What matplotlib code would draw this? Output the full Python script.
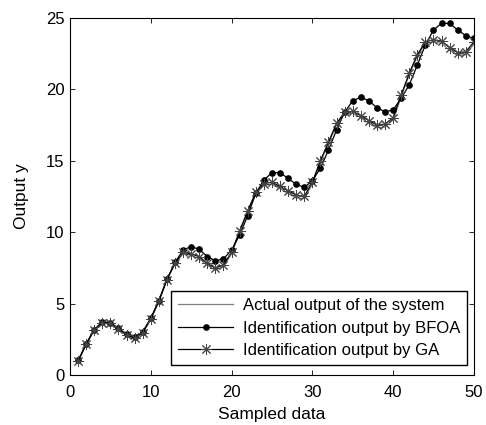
import numpy as np
import matplotlib
matplotlib.use("Agg")
import matplotlib.pyplot as plt

plt.rcParams.update({
    "font.family": ["Liberation Sans", "DejaVu Sans"],
    "font.size": 12,
})

# sample index
samples = np.arange(1, 51)

actual = [0.95, 2.15, 3.15, 3.65, 3.6, 3.2, 2.8, 2.55, 2.95, 3.9,
          5.15, 6.65, 7.8, 8.5, 8.4, 8.15, 7.7, 7.35, 7.6, 8.5,
          10.0, 11.4, 12.7, 13.3, 13.35, 13.05, 12.7, 12.4, 12.35, 13.35,
          14.9, 16.2, 17.5, 18.3, 18.3, 18.0, 17.6, 17.3, 17.35, 17.85,
          19.45, 21.0, 22.3, 23.2, 23.3, 23.2, 22.7, 22.35, 22.4, 23.15]

bfoa = [1.05, 2.2, 3.2, 3.75, 3.7, 3.3, 2.9, 2.7, 3.05, 4.0,
        5.22, 6.72, 7.9, 8.76, 9.0, 8.81, 8.3, 8.02, 8.14, 8.76,
        9.81, 11.16, 12.72, 13.65, 14.16, 14.16, 13.77, 13.35, 13.14, 13.6,
        14.47, 15.75, 17.14, 18.38, 19.19, 19.43, 19.19, 18.7, 18.42, 18.54,
        19.36, 20.29, 21.68, 23.08, 24.13, 24.59, 24.59, 24.13, 23.73, 23.55]

ga = [1.0, 2.2, 3.2, 3.7, 3.65, 3.25, 2.85, 2.6, 3.0, 3.95,
      5.2, 6.7, 7.85, 8.6, 8.5, 8.3, 7.83, 7.5, 7.72, 8.6,
      10.1, 11.5, 12.8, 13.4, 13.5, 13.2, 12.9, 12.6, 12.5, 13.5,
      15.0, 16.3, 17.6, 18.4, 18.45, 18.15, 17.8, 17.5, 17.55, 18.0,
      19.6, 21.1, 22.4, 23.3, 23.45, 23.35, 22.9, 22.55, 22.6, 23.3]

fig = plt.figure(figsize=(4.86, 4.25), dpi=100)
ax = fig.add_axes([0.144, 0.1165, 0.831, 0.8423])

ax.plot(samples, actual, color="#808080", linewidth=0.9,
        label="Actual output of the system")
ax.plot(samples, bfoa, color="black", linewidth=0.9, marker="o",
        markersize=3.8, label="Identification output by BFOA")
ax.plot(samples, ga, color="black", linewidth=0.9, marker=(8, 2, 0),
        markersize=8, markeredgecolor="#444444",
        markeredgewidth=0.7, label="Identification output by GA")

ax.set_xlim(0, 50)
ax.set_ylim(0, 25)
ax.set_xticks(np.arange(0, 51, 10))
ax.set_yticks(np.arange(0, 26, 5))
ax.tick_params(direction="in", top=True, right=True, length=3.5, width=0.6,
               labelsize=12)
ax.tick_params(axis="x", pad=7)
ax.tick_params(axis="y", pad=4)
for s in ax.spines.values():
    s.set_linewidth(0.8)

ax.set_xlabel("Sampled data", fontsize=12.5, labelpad=5)
ax.set_ylabel("Output y", fontsize=12.5, labelpad=12)

leg = ax.legend(loc="lower right", bbox_to_anchor=(0.983, 0.029),
                borderaxespad=0, fancybox=False, edgecolor="black",
                framealpha=1, handlelength=3.3, handletextpad=0.55,
                fontsize=12, labelspacing=0.45, borderpad=0.42)
leg.get_frame().set_linewidth(1.0)

fig.savefig("out.png", dpi=100)
